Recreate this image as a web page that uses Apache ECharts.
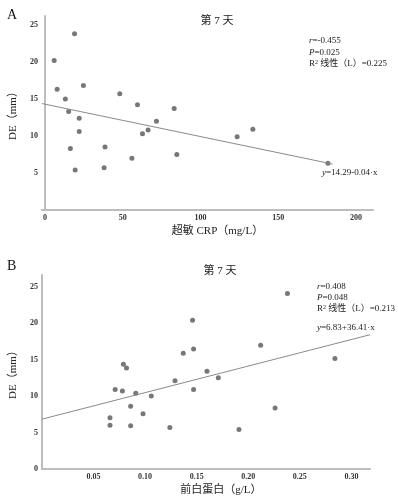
<!DOCTYPE html>
<html>
<head>
<meta charset="utf-8">
<script src="https://cdn.jsdelivr.net/npm/echarts@6/dist/echarts.min.js"></script>
<style>
  html, body { margin: 0; padding: 0; background: #fff; }
  #main { width: 398px; height: 500px; }
</style>
</head>
<body>
<div id="main"></div>
<script>
// A: 超敏 CRP vs DE (第 7 天)
const crpX = [5.9, 19, 7.8, 24.7, 13.1, 15.2, 22, 22, 16.3, 19.4, 38.6, 38, 48.1, 59.5, 71.7, 66.3, 62.7, 55.9, 83.1, 84.8, 123.6, 133.7, 182];
const crpY = [20.2, 23.8, 16.3, 16.8, 15, 13.3, 12.4, 10.6, 8.3, 5.4, 8.5, 5.7, 15.7, 14.2, 12.0, 10.8, 10.3, 7.0, 13.7, 7.5, 9.9, 10.9, 6.3];
const crpTicks = [0, 50, 100, 150, 200];
const crpFit = { a: 14.29, b: -0.0437, from: -2, to: 185 };

// B: 前白蛋白 vs DE (第 7 天)
const pabX = [0.066, 0.066, 0.071, 0.078, 0.079, 0.082, 0.091, 0.086, 0.086, 0.098, 0.106, 0.124, 0.129, 0.137, 0.146, 0.147, 0.147, 0.160, 0.171, 0.191, 0.212, 0.226, 0.238, 0.284];
const pabY = [7.03, 6.0, 10.9, 10.7, 14.35, 13.85, 10.37, 8.6, 5.93, 7.58, 10.0, 5.7, 12.1, 15.87, 20.4, 16.46, 10.9, 13.4, 12.5, 5.4, 16.96, 8.35, 24.07, 15.14];
const pabTicks = [0.05, 0.10, 0.15, 0.20, 0.25, 0.30];
const pabFit = { a: 6.83, b: 36.41, from: 0, to: 0.318 };

const yTicksA = [5, 10, 15, 20, 25];
const yTicksB = [0, 5, 10, 15, 20, 25];

const serif = '"Liberation Serif", "Noto Sans CJK SC", serif';
const pts = (xs, ys) => xs.map((x, i) => [x, ys[i]]);
const fitLine = f => [[f.from, f.a + f.b * f.from], [f.to, f.a + f.b * f.to]];

const axisLine = { show: true, lineStyle: { color: '#bdbdbd', width: 2 } };
const tickLabel = { fontFamily: serif, fontSize: 8, fontWeight: 'bold', color: '#333' };

const chart = echarts.init(document.getElementById('main'));

const richText = {
  i: { fontFamily: serif, fontStyle: 'italic', fontSize: 9, color: '#222' },
  n: { fontFamily: serif, fontSize: 9, color: '#222' },
  sup: { fontFamily: serif, fontSize: 6, color: '#222', verticalAlign: 'top', padding: [0, 0, 4, 0] }
};

function note(left, top, text) {
  return {
    type: 'text', left: left, top: top, z: 100,
    style: { text: text, rich: richText, fontFamily: serif, fontSize: 9, fill: '#222' }
  };
}

chart.setOption({
  animation: false,
  title: [
    { text: '第 7 天', left: 212, top: 11, textAlign: 'center',
      textStyle: { fontFamily: serif, fontSize: 11, fontWeight: 'normal', color: '#222' } },
    { text: '第 7 天', left: 215, top: 261, textAlign: 'center',
      textStyle: { fontFamily: serif, fontSize: 11, fontWeight: 'normal', color: '#222' } }
  ],
  grid: [
    { left: 37, top: 16, width: 336, height: 194 },
    { left: 37, top: 275, width: 333, height: 194 }
  ],
  xAxis: [
    { gridIndex: 0, type: 'value', min: -2, max: 211,
      name: '超敏 CRP（mg/L）', nameLocation: 'middle', nameGap: 16,
      nameTextStyle: { fontFamily: serif, fontSize: 11, color: '#222', padding: [0, 0, 0, 20] },
      axisLine: axisLine, axisTick: { show: false }, splitLine: { show: false },
      axisLabel: Object.assign({ customValues: crpTicks, margin: 4 }, tickLabel) },
    { gridIndex: 1, type: 'value', min: 0, max: 0.318,
      name: '前白蛋白（g/L）', nameLocation: 'middle', nameGap: 16,
      nameTextStyle: { fontFamily: serif, fontSize: 11, color: '#222', padding: [0, 0, 0, 30] },
      axisLine: axisLine, axisTick: { show: false }, splitLine: { show: false },
      axisLabel: Object.assign({ customValues: pabTicks, margin: 4, formatter: v => v.toFixed(2) }, tickLabel) }
  ],
  yAxis: [
    { gridIndex: 0, type: 'value', min: 0, max: 26.2,
      name: 'DE（mm）', nameLocation: 'middle', nameGap: 18, nameRotate: 90,
      nameTextStyle: { fontFamily: serif, fontSize: 11, color: '#222' },
      axisLine: axisLine, axisTick: { show: false }, splitLine: { show: false },
      axisLabel: Object.assign({ customValues: yTicksA, margin: 4 }, tickLabel) },
    { gridIndex: 1, type: 'value', min: 0, max: 26.6,
      name: 'DE（mm）', nameLocation: 'middle', nameGap: 18, nameRotate: 90,
      nameTextStyle: { fontFamily: serif, fontSize: 11, color: '#222' },
      axisLine: axisLine, axisTick: { show: false }, splitLine: { show: false },
      axisLabel: Object.assign({ customValues: yTicksB, margin: 4 }, tickLabel) }
  ],
  series: [
    { type: 'scatter', xAxisIndex: 0, yAxisIndex: 0, data: pts(crpX, crpY),
      symbolSize: 5, itemStyle: { color: '#555' } },
    { type: 'line', xAxisIndex: 0, yAxisIndex: 0, data: fitLine(crpFit),
      symbol: 'none', lineStyle: { color: '#8a8a8a', width: 1 } },
    { type: 'scatter', xAxisIndex: 1, yAxisIndex: 1, data: pts(pabX, pabY),
      symbolSize: 5, itemStyle: { color: '#555' } },
    { type: 'line', xAxisIndex: 1, yAxisIndex: 1, data: fitLine(pabFit),
      symbol: 'none', lineStyle: { color: '#8a8a8a', width: 1 } }
  ],
  graphic: [
    { type: 'text', left: 7, top: 8, style: { text: 'A', fontFamily: serif, fontSize: 14, fill: '#111' } },
    { type: 'text', left: 7, top: 259, style: { text: 'B', fontFamily: serif, fontSize: 14, fill: '#111' } },

    note(309, 36, '{i|r}{n|=-0.455}'),
    note(309, 48, '{i|P}{n|=0.025}'),
    note(309, 59, '{n|R}{sup|2}{n| 线性（L）=0.225}'),
    { type: 'rect', left: 321, top: 167, shape: { width: 70, height: 12 }, style: { fill: '#fff' }, z: 90 },
    note(322, 168, '{i|y}{n|=14.29-0.04·x}'),

    note(317, 282, '{i|r}{n|=0.408}'),
    note(317, 293, '{i|P}{n|=0.048}'),
    note(317, 304, '{n|R}{sup|2}{n| 线性（L）=0.213}'),
    note(317, 323, '{i|y}{n|=6.83+36.41·x}')
  ]
});
</script>
</body>
</html>
